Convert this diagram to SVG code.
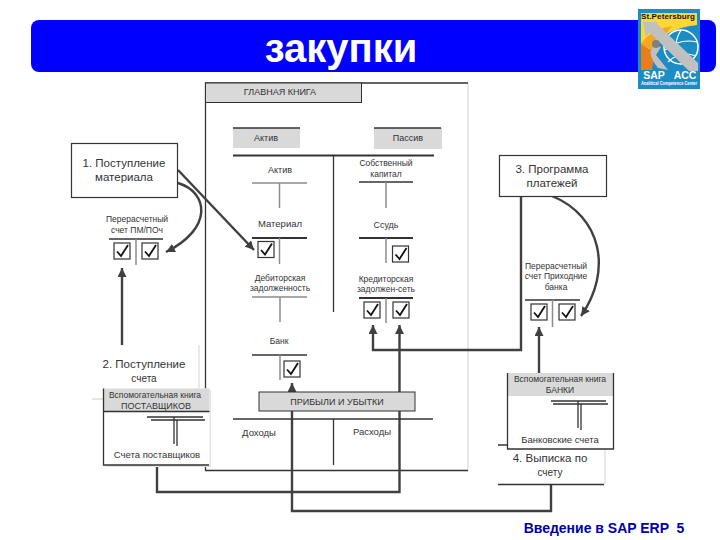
<svg xmlns="http://www.w3.org/2000/svg" width="720" height="540" viewBox="0 0 720 540">
<style>
text{font-family:"Liberation Sans",Arial,sans-serif;text-anchor:middle;fill:#333}
.t8{font-size:8.5px}.t9{font-size:9px}.t95{font-size:9.500px}.t10{font-size:10px}.t11{font-size:11.5px}
.dk{stroke:#333;stroke-width:1.3;fill:none}
.thk{stroke:#333;stroke-width:2;fill:none}
.gr{stroke:#8c8c8c;stroke-width:1.5;fill:none}
.lt{stroke:#ddd;stroke-width:1.3;fill:none}
.hd{fill:#d9d9d9}
.box{fill:#fff;stroke:#333;stroke-width:1.2}
.conn{stroke:#404040;stroke-width:2.4;fill:none}
.cb{fill:#fff;stroke:#333;stroke-width:1.2}
.ck{fill:none;stroke:#111;stroke-width:1.8}
</style>
<defs>
<g id="check"><rect class="cb" width="16" height="16"/><path class="ck" d="M3 8.500L7 13L14 2"/></g>
<marker id="ah" markerUnits="userSpaceOnUse" markerWidth="10" markerHeight="10" refX="9" refY="4.500" orient="auto"><path d="M0 0L9 4.500L0 9Z" fill="#404040"/></marker>
</defs>
<rect id="title-bar" x="31" y="20" width="685" height="52" rx="8" fill="#0000ff"/>
<text x="341" y="62" style="font-size:40px;font-weight:bold;fill:#fff">закупки</text>
<g id="logo">
<rect x="638" y="9" width="62" height="80" fill="#1b8cc4"/>
<path d="M641 13H697V25Q662 28 641 58Z" fill="#fdd835"/>
<path d="M641 44L658 34L652 70H641Z" fill="#e67e1e"/>
<path d="M641 44Q650 30 672 26L660 42L650 50Z" fill="#f5a623"/>
<circle cx="681" cy="47" r="17" fill="none" stroke="#fff" stroke-width="1.500"/>
<path d="M665 50Q680 38 697 42M668 62Q680 50 696 56M681 30Q670 48 683 64" fill="none" stroke="#fff" stroke-width="1.200"/>
<path d="M648 31L656 23L698 63V71H689Z" fill="#c0c0c0"/>
<path d="M643 22H658L646 37Z" fill="#c0c0c0"/>
<path d="M655 45Q645 52 658 68L668 70L656 55L661 47Z" fill="#c0c0c0"/>
<circle cx="656" cy="44" r="4" fill="#808080"/>
<text x="668" y="19" textLength="54" style="font-size:8px;font-weight:bold;fill:#111">St.Petersburg</text>
<text x="654" y="79" style="font-size:10.500px;font-weight:bold;fill:#fff">SAP</text>
<text x="685" y="79" style="font-size:10.500px;font-weight:bold;fill:#fff">ACC</text>
<text x="669" y="85" textLength="56" lengthAdjust="spacingAndGlyphs" style="font-size:4.500px;font-weight:bold;fill:#fff">Analitical Competence Center</text>
</g>
<g id="main-book">
<path class="lt" d="M468 83V470"/>
<path class="dk" d="M468 83H205.500V470.500H468"/>
<rect x="205.500" y="83" width="156" height="19.500" class="hd" stroke="#333" stroke-width="1"/>
<text x="280" y="95" class="t9">ГЛАВНАЯ КНИГА</text>
</g>
<g id="active-head"><rect x="233" y="128" width="67" height="20" class="hd"/><path class="dk" d="M233 128H300"/><text x="266" y="141" class="t9">Актив</text></g>
<g id="passive-head"><rect x="374" y="128" width="68" height="21" class="hd"/><path class="dk" d="M374 128H441"/><text x="408" y="141" class="t9">Пассив</text></g>
<g id="balance-t"><path class="thk" d="M233 155.500H434"/><path class="dk" d="M333.500 155.500V312"/></g>
<g id="acct-active"><text x="280" y="173" class="t9">Актив</text><path class="gr" d="M252 183H307M279.500 183V208"/></g>
<g id="acct-material"><text x="280" y="227" class="t95">Материал</text><path class="thk" d="M252 238H307"/><path class="gr" d="M279.500 238V264"/><use href="#check" x="258" y="241.500"/></g>
<g id="acct-debitors"><text x="280" y="281" class="t8">Дебиторская</text><text x="280" y="291" class="t8">задолженность</text><path class="gr" d="M252 297H307M280 297V322"/></g>
<g id="acct-bank"><text x="279" y="344" class="t8">Банк</text><path class="dk" d="M252 355H307"/><path class="gr" d="M280 355V380"/><use href="#check" x="284" y="361"/></g>
<g id="acct-equity"><text x="386" y="166" class="t8">Собственный</text><text x="386" y="177" class="t8">капитал</text><path class="dk" d="M359 182H413"/><path class="gr" d="M386 182V208"/></g>
<g id="acct-loan"><text x="386" y="228" class="t9">Ссудь</text><path class="thk" d="M359 238H413"/><path class="gr" d="M386 238V263"/><use href="#check" x="392.500" y="246"/></g>
<g id="acct-creditors"><text x="386" y="282" class="t8">Кредиторская</text><text x="386" y="292" class="t8">задолжен-сеть</text><path class="thk" d="M359 298H413"/><path class="gr" d="M386 298V323"/><use href="#check" x="364" y="302"/><use href="#check" x="393" y="302"/></g>
<g id="connectors">
<path class="conn" d="M178 170L254 250" marker-end="url(#ah)"/>
<path class="conn" d="M178 183C208 192 214 228 166 252" marker-end="url(#ah)"/>
<path class="conn" d="M122 345V268" marker-end="url(#ah)"/>
<path class="conn" d="M552 196C601 216 613 270 581 316" marker-end="url(#ah)"/>
<path class="conn" d="M521 196V350H373V325" marker-end="url(#ah)"/>
<path class="conn" d="M157 465V492H399.500V325" marker-end="url(#ah)"/>
<path class="conn" d="M551 484V511H292V383" marker-end="url(#ah)"/>
<path class="conn" d="M539 373V327" marker-end="url(#ah)"/>
</g>
<g id="profit-loss">
<rect x="259" y="392" width="156" height="19" class="hd" stroke="#333" stroke-width="1"/>
<text x="337" y="405" class="t9">ПРИБЫЛИ И УБЫТКИ</text>
<path class="dk" d="M233 419H433"/><path class="dk" d="M333.500 419V465"/>
<text x="259" y="436" class="t95">Доходы</text><text x="372" y="435" class="t95">Расходы</text>
</g>
<g id="box-1"><rect class="box" x="71.500" y="143.500" width="106" height="54"/><text x="124" y="167" class="t11">1. Поступление</text><text x="124" y="181" class="t11">материала</text></g>
<g id="clearing-gr"><text x="137" y="222" class="t8">Перерасчетный</text><text x="137" y="233" class="t8">счет ПМ/ПОч</text><path class="dk" d="M109 239H163"/><path class="gr" d="M136 239V265"/><use href="#check" x="114" y="243"/><use href="#check" x="142" y="243"/></g>
<g id="box-2"><path class="lt" d="M199 345V390M92 399H104"/><text x="144" y="368" class="t11">2. Поступление</text><text x="144" y="382" class="t10">счета</text></g>
<g id="vendors-book">
<path d="M208 390H211V467H105V465H208Z" fill="#e4e4e4"/>
<rect x="103.500" y="388.500" width="106" height="76.500" fill="#fff"/>
<rect x="103.500" y="388.500" width="106" height="23" class="hd"/>
<path class="dk" d="M103.500 388.500V465H209M103.500 411.500H209.500"/>
<text x="155" y="398" class="t8">Вспомогательная книга</text>
<text x="156" y="408.500" class="t9">ПОСТАВЩИКОВ</text>
<path class="dk" d="M147 417H203M151 420H205M174 417V444M177 420V446"/>
<text x="157" y="458" class="t95">Счета поставщиков</text>
</g>
<g id="box-3"><rect class="box" x="499.500" y="155.500" width="107" height="41"/><text x="552" y="173" class="t11">3. Программа</text><text x="552" y="187" class="t11">платежей</text></g>
<g id="clearing-ir"><text x="556" y="269" class="t8">Перерасчетный</text><text x="556" y="279" class="t8">счет Приходние</text><text x="556" y="290" class="t8">банка</text><path class="dk" d="M525 300H580"/><path class="gr" d="M552.500 300V327"/><use href="#check" x="531" y="304"/><use href="#check" x="559" y="304"/></g>
<g id="box-4"><path class="lt" d="M605 449V484"/><path class="dk" d="M498 445H507M498 484.500H604"/><text x="550" y="462" class="t11">4. Выписка по</text><text x="550" y="475.500" class="t10">счету</text></g>
<g id="banks-book">
<rect x="507.500" y="373" width="106" height="76" fill="#fff"/>
<rect x="507.500" y="373" width="106" height="23" class="hd"/>
<path class="dk" d="M507.500 373V449H613.500V373"/>
<text x="560" y="382" class="t8">Вспомогательная книга</text>
<text x="560" y="392.500" class="t8">БАНКИ</text>
<path class="dk" d="M551 401H606M553 404H608M578 401V428M581 404V430"/>
<text x="560" y="443" class="t95">Банковские счета</text>
</g>
<text x="604" y="533" style="font-size:14px;font-weight:bold;fill:#0000a8">Введение в SAP ERP &#160;5</text>
</svg>
